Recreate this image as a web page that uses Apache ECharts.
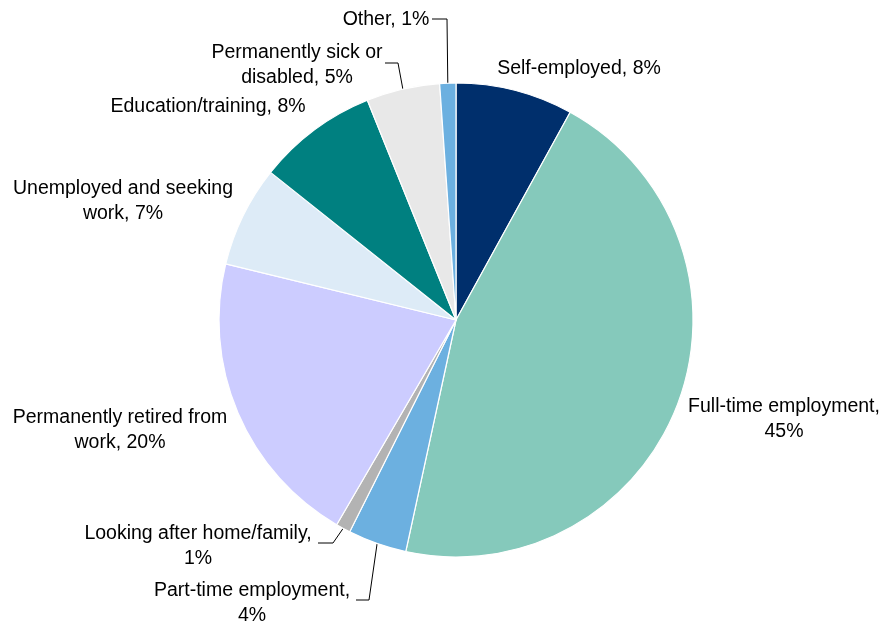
<!DOCTYPE html>
<html>
<head>
<meta charset="utf-8">
<style>
  html, body { margin: 0; padding: 0; background: #ffffff; }
  #chart { width: 882px; height: 623px; }
</style>
<script src="https://cdn.jsdelivr.net/npm/echarts@6/dist/echarts.min.js"></script>
</head>
<body>
<div id="chart"></div>
<script>
// Economic activity shares (percent), clockwise from 12 o'clock
const categories = [
  'Self-employed',
  'Full-time employment',
  'Part-time employment',
  'Looking after home/family',
  'Permanently retired from work',
  'Unemployed and seeking work',
  'Education/training',
  'Permanently sick or disabled',
  'Other'
];
const shares = [8.0, 45.4, 4.0, 1.0, 20.4, 6.9, 8.2, 5.0, 1.1];
// Label text split into lines as drawn
const labelLines = [
  ['Self-employed, {p}'],
  ['Full-time employment,', '{p}'],
  ['Part-time employment,', '{p}'],
  ['Looking after home/family,', '{p}'],
  ['Permanently retired from', 'work, {p}'],
  ['Unemployed and seeking', 'work, {p}'],
  ['Education/training, {p}'],
  ['Permanently sick or', 'disabled, {p}'],
  ['Other, {p}']
];
const sliceColors = ['#002F6C', '#85C9BB', '#6CB0E0', '#B3B3B3', '#CCCCFF', '#DDEBF7', '#008080', '#E8E8E8', '#6CB0E0'];

// Geometry of the pie
const CX = 456, CY = 320, R = 237;

// Label block centres, and leader-line elbow/end points for labels that use one
const labelPos = [
  [579, 69], [784, 419], [252, 603], [198, 546], [120, 430],
  [123, 201], [208, 107], [297, 65], [386, 20]
];
const leaderPath = [
  null, null,
  [[369, 600], [356, 600]],
  [[333, 543], [318, 543]],
  null, null, null,
  [[398, 63], [385, 63]],
  [[447, 19], [432, 19]]
];

const total = shares.reduce((a, b) => a + b, 0);
function edgePoint(i) {
  let before = 0;
  for (let k = 0; k < i; k++) before += shares[k];
  const mid = (before + shares[i] / 2) / total * 2 * Math.PI;
  return [CX + R * Math.sin(mid), CY - R * Math.cos(mid)];
}

const data = categories.map((name, i) => ({
  name: name,
  value: shares[i],
  itemStyle: { color: sliceColors[i] },
  labelLine: { show: leaderPath[i] !== null }
}));

const chart = echarts.init(document.getElementById('chart'), null, { renderer: 'canvas' });
chart.setOption({
  backgroundColor: '#ffffff',
  animation: false,
  series: [{
    type: 'pie',
    center: [CX, CY],
    radius: [0, R],
    startAngle: 90,
    clockwise: true,
    avoidLabelOverlap: false,
    data: data,
    itemStyle: { borderColor: '#ffffff', borderWidth: 1.2 },
    label: {
      show: true,
      position: 'outside',
      color: '#000000',
      fontFamily: '"Liberation Sans", Arial, sans-serif',
      fontSize: 19.5,
      lineHeight: 25,
      align: 'center',
      formatter: function (p) {
        const pct = Math.round(p.value) + '%';
        return labelLines[p.dataIndex].map(s => s.replace('{p}', pct)).join('\n');
      }
    },
    labelLine: {
      show: true,
      length: 10,
      length2: 10,
      smooth: false,
      lineStyle: { color: '#000000', width: 1 }
    },
    emphasis: { disabled: true },
    labelLayout: function (params) {
      const i = params.dataIndex;
      const out = {
        x: labelPos[i][0],
        y: labelPos[i][1],
        align: 'center',
        verticalAlign: 'middle',
        hideOverlap: false,
        moveOverlap: null
      };
      if (leaderPath[i]) {
        out.labelLinePoints = [edgePoint(i)].concat(leaderPath[i]);
      }
      return out;
    }
  }]
});
</script>
</body>
</html>
